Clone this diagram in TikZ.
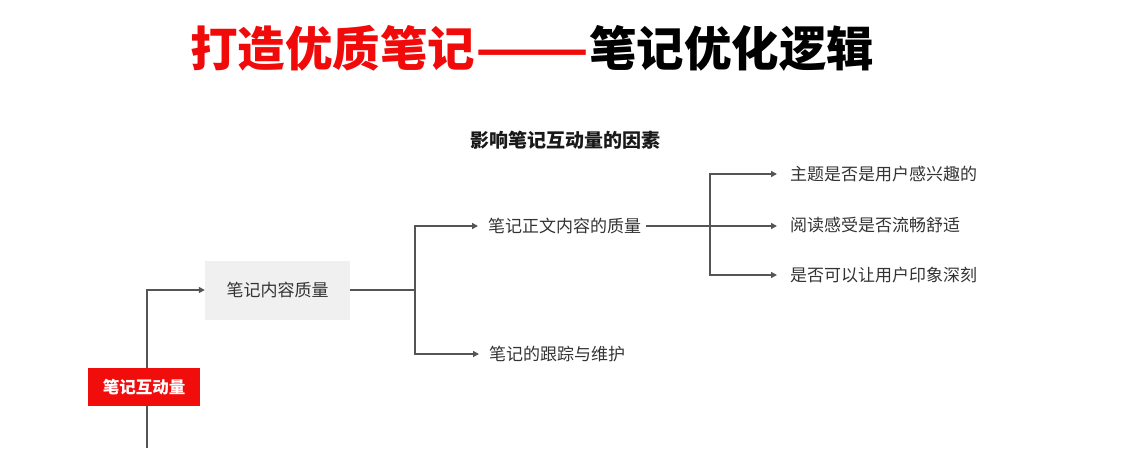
\documentclass[tikz,border=0pt]{standalone}
\usepackage{fontspec}
\setmainfont{Noto Sans CJK SC}
\usetikzlibrary{arrows.meta}
\definecolor{ln}{HTML}{555555}
\definecolor{tx}{HTML}{333333}
\definecolor{redbox}{HTML}{F20D0D}
\definecolor{graybox}{HTML}{F0F0F0}
\definecolor{titlered}{HTML}{F00A0A}
\begin{document}
\begin{tikzpicture}[x=1pt,y=-1pt,
  conn/.style={draw=ln,line width=1.4pt},
  arr/.style={conn,-{Triangle[length=6pt,width=6pt]}},
  lbl/.style={anchor=west,inner sep=0pt,text=tx,font=\fontsize{17}{17}\selectfont},
]
\useasboundingbox (0,0) rectangle (1125,448);
\node[anchor=west,inner sep=0pt,font=\fontsize{47.5}{47.5}\selectfont\bfseries] (title) at (190,48)
  {\textcolor{titlered}{打造优质笔记\scalebox{1.4}[1]{——}}笔记优化逻辑};
\node[inner sep=0pt,font=\fontsize{19}{19}\selectfont\bfseries,text=black!90] (sub) at (565,140) {影响笔记互动量的因素};
\node[fill=redbox,minimum width=112pt,minimum height=38pt,inner sep=0pt,text=white,font=\fontsize{16.5}{16.5}\selectfont\bfseries] (root) at (144,387) {笔记互动量};
\node[fill=graybox,minimum width=145pt,minimum height=59pt,inner sep=0pt,text=tx,font=\fontsize{17}{17}\selectfont] (q) at (277.5,290) {笔记内容质量};
\node[lbl] (body) at (488,226) {笔记正文内容的质量};
\node[lbl] (track) at (489,354) {笔记的跟踪与维护};
\node[lbl] (t1) at (790,174) {主题是否是用户感兴趣的};
\node[lbl] (t2) at (790,225) {阅读感受是否流畅舒适};
\node[lbl] (t3) at (790,275) {是否可以让用户印象深刻};
\coordinate (rb) at (147,448);
% root to quality
\draw[arr] (root.north -| 147,0) |- (q.west);
\draw[conn] (root.south -| 147,0) -- (rb);
% quality branches
\coordinate (j1) at (415,290);
\draw[conn] (q.east) -- (j1);
\draw[arr] (j1) |- ([xshift=-10pt]body.west);
\draw[arr] (j1) |- ([xshift=-10pt]track.west);
% body branches
\coordinate (j2) at (710,226);
\draw[conn] ([xshift=5pt]body.east) -- (j2);
\draw[arr] (j2) |- ([xshift=-13pt]t1.west);
\draw[arr] (j2) -- ([xshift=-13pt]t2.west |- j2);
\draw[arr] (j2) |- ([xshift=-13pt]t3.west);
\end{tikzpicture}
\end{document}
